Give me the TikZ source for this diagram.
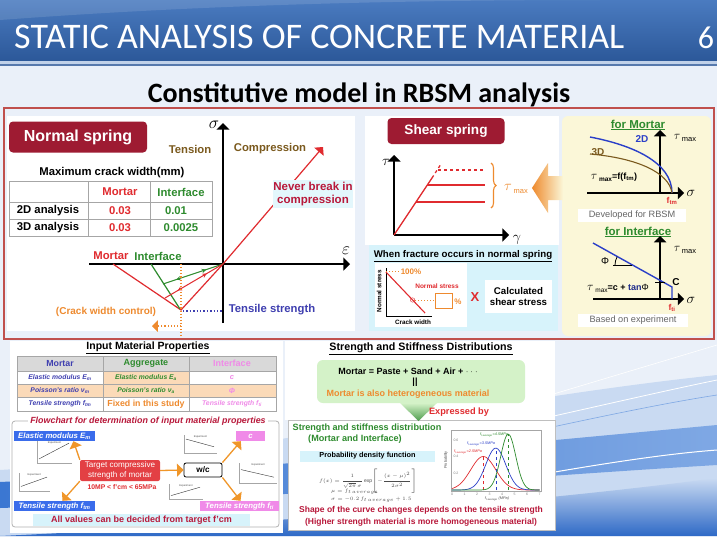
\documentclass[tikz,border=0pt]{standalone}
\usepackage{fontspec}
\setmainfont{Liberation Sans}
\newfontfamily\calib{Carlito}
\usetikzlibrary{arrows,calc,shadings}
\usetikzlibrary{decorations.pathreplacing,decorations.markings}

\newcommand\fsz[1]{\fontsize{#1}{\fpeval{1.18*#1}}\selectfont}

\definecolor{slidebg}{HTML}{EAF0F9}
\definecolor{barlight}{HTML}{4A7BC0}
\definecolor{bardark}{HTML}{2C5899}
\definecolor{boxred}{HTML}{C0504D}
\definecolor{springred}{HTML}{9E1B32}
\definecolor{lred}{HTML}{E02B2F}
\definecolor{lgreen}{HTML}{2E8B2E}
\definecolor{tbrown}{HTML}{7B5A1E}
\definecolor{tblue}{HTML}{3F3FB0}
\definecolor{lorange}{HTML}{EE8A2E}
\definecolor{cyanbg}{HTML}{D7F3FB}
\definecolor{yellowbg}{HTML}{FBF7D8}
\definecolor{dred}{HTML}{B8183A}
\definecolor{cblue}{HTML}{2B3FC8}
\definecolor{lpink}{HTML}{F08AE8}
\definecolor{bblue}{HTML}{3A6CEB}
\definecolor{peach}{HTML}{FBDAB8}
\definecolor{hgray}{HTML}{D9D9D9}
\definecolor{lgreenbg}{HTML}{D4F2C8}
\definecolor{wave1}{HTML}{C9DAF2}
\definecolor{wave2}{HTML}{7FA8E4}
\definecolor{wave3}{HTML}{3B77D2}
\definecolor{wave4}{HTML}{2E69C6}

\newcommand\minigraph[6]{%
  \fill[white] (#1,#2) rectangle ++(#3,#4);
  \draw[gray!70, line width=0.3] (#1+4,#2+1) -- (#1+4,#2+#4-4) -- (#1+#3,#2+#4-4);
  \draw[gray!40!black, line width=0.4] (#1+6,{#2+(#4-6)*#5}) -- (#1+#3-3,{#2+(#4-6)*#6});
  \node[inner sep=0, font=\fsz{2.6}, text=gray!60!black] at (#1+#3*0.55,#2+3) {Experiment};
}

\tikzset{
  springbox/.style={fill=springred, rounded corners=4, text=white, font=\bfseries\fsz{16}, minimum width=138, minimum height=31, inner sep=0},
  lbl/.style={inner sep=0, font=\bfseries\fsz{#1}},
  lbl/.default=11.3,
  itxt/.style={inner sep=0, font=\bfseries\itshape\fsz{#1}},
  itxt/.default=6.8,
  axis/.style={line width=1.3, ->},
  whitebox/.style={fill=white, inner sep=0, text=gray!80!black, font=\fsz{9.2}},
  bluebox/.style={fill=bblue, text=white, font=\bfseries\itshape\fsz{7.8}, minimum width=81, minimum height=10, inner sep=0},
  pinkbox/.style={fill=lpink, text=white, font=\bfseries\itshape\fsz{7.8}, minimum height=10, inner sep=0},
  flowarrow/.style={draw=lorange!90!yellow, line width=1.3, ->},
  unload/.style={postaction={decorate}, decoration={markings, mark=at position 0.22 with {\arrowreversed{stealth}}, mark=at position 0.72 with {\arrow{stealth}}}},
}

\begin{document}
\begin{tikzpicture}[x=1pt, y=-1pt, >=triangle 90]
\useasboundingbox (0,0) rectangle (717,536);
% background
\fill[slidebg] (0,0) rectangle (717,536);
\fill[wave1] (0,470) .. controls (250,455) and (480,400) .. (717,375) -- (717,536) -- (0,536) -- cycle;
\shade[left color=wave3, right color=wave2] (0,482) .. controls (250,470) and (500,445) .. (717,425) -- (717,465) .. controls (500,478) and (250,500) .. (0,508) -- cycle;
\shade[top color=wave1, bottom color=wave4] (0,536) .. controls (300,522) and (550,500) .. (717,478) -- (717,536) -- cycle;
\draw[white, line width=0.8] (300,470) .. controls (500,430) and (620,400) .. (717,380);
\draw[wave2, line width=0.6] (300,480) .. controls (500,440) and (620,410) .. (717,395);
\draw[white, line width=0.6] (400,440) -- (717,345);
\draw[white, line width=1] (400,500) .. controls (560,470) and (650,455) .. (717,450);

% title
\shade[top color=barlight, bottom color=bardark] (0,0) rectangle (717,61);
\fill[white, opacity=0.12] (0,20) .. controls (200,5) and (400,0) .. (600,0) -- (0,0) -- cycle;
\fill[white!65!barlight] (0,61) rectangle (717,64);
\fill[bardark!80] (0,64) rectangle (717,65.5);
\node[anchor=west, inner sep=0, text=white, font=\calib\fsz{36}] (title) at (14,37) {STATIC ANALYSIS OF CONCRETE MATERIAL};
\node[inner sep=0, text=white, font=\calib\fsz{32}] (pagenum) at (706,38) {6};
\node[inner sep=0, font=\calib\bfseries\fsz{28}] (subtitle) at (359,95) {Constitutive model in RBSM analysis};

% frames
\draw[boxred, line width=1.8] (4,108) rectangle (714,339);
\fill[white] (7,116) rectangle (355,331);
\fill[white] (365,116) rectangle (559,245);
\fill[cyanbg] (369,245) rectangle (558,331);
\fill[yellowbg, rounded corners=6] (562,116) rectangle (711,336);

% normal spring
\begin{scope}
  \node[springbox] (normal) at (78,137) {Normal spring};
  \draw[axis] (223,323) -- (223,123);
  \draw[axis] (89,264) -- (350,264);
  \node[inner sep=0, font=\fsz{16}] (sigA) at (214,125) {$\sigma$};
  \node[inner sep=0, font=\fsz{16}] (epsA) at (346,251) {$\varepsilon$};
  \node[lbl, text=tbrown] (tension) at (190,149) {Tension};
  \node[lbl, text=tbrown] (compr) at (270,149) {Compression};
  \node[lbl] (mcw) at (112,173) {Maximum crack width(mm)};
  \draw[gray!70, line width=0.8] (9,181) rectangle (212,236) (9,202) -- (212,202) (9,219) -- (212,219) (88,181) -- (88,236) (150,181) -- (150,236);
  \node[lbl, text=lred] (hmortar) at (120,192) {Mortar};
  \node[lbl, text=lgreen] (hinter) at (181,192) {Interface};
  \node[lbl] (row2d) at (48,211) {2D analysis};
  \node[lbl, text=lred] (m2d) at (120,211) {0.03};
  \node[lbl, text=lgreen] (i2d) at (176,211) {0.01};
  \node[lbl] (row3d) at (48,228) {3D analysis};
  \node[lbl, text=lred] (m3d) at (120,228) {0.03};
  \node[lbl, text=lgreen] (i3d) at (181,228) {0.0025};
  \draw[lred, line width=1.2, ->] (223,264) -- (323,147);
  \node[fill=cyanbg!70, lbl=11.5, text=dred, align=center, minimum width=80, minimum height=28] (never) at (313,194) {Never break in\\compression};
  \draw[lred, line width=1.2] (113,264) -- (181,310) -- (223,264);
  \draw[lgreen, line width=1.2] (151,264) -- (180,309);
  \draw[lgreen, line width=1, unload] (163,284) -- (223,264);
  \draw[lred, line width=1, unload] (165,298) -- (223,264);
  \draw[lorange, dotted, line width=1.1] (181,264) -- (181,337);
  \draw[lorange, dotted, line width=1.1, ->] (181,326) -- (152,326);
  \draw[tblue, dotted, line width=1.4] (183,311) -- (222,311);
  \node[lbl=10, text=lorange] (cwc) at (106,312) {(Crack width control)};
  \node[lbl, text=tblue] (tstr) at (272,310) {Tensile strength};
  \node[lbl, text=lred] (mlab) at (111,256) {Mortar};
  \node[lbl, text=lgreen] (ilab) at (158,256) {Interface};
\end{scope}

% shear spring
\begin{scope}
  \node[springbox, minimum width=117, minimum height=26, font=\bfseries\fsz{13.6}] (shear) at (446,131) {Shear spring};
  \draw[axis] (394,235) -- (394,155);
  \draw[axis] (394,235) -- (509,235);
  \node[inner sep=0, font=\fsz{15}] (tauB) at (386,162) {$\tau$};
  \node[inner sep=0, font=\fsz{15}] (gamB) at (517,240) {$\gamma$};
  \draw[lred, line width=1.3] (394,235) -- (432,178);
  \draw[lred, line width=1.3, dashed] (432,178) -- (441,164);
  \draw[lred, line width=1.3] (416,202) -- (485,202);
  \draw[lred, line width=1.3] (427,185) -- (485,185);
  \draw[lred, line width=1.3, dashed] (438,170) -- (485,170);
  \draw[lorange, line width=1.1, decorate, decoration={brace, amplitude=5}] (491,163) -- (491,208);
  \node[inner sep=0, text=lorange] (taumax) at (516,189) {{\fsz{14}$\tau$}\,\raisebox{-3pt}{\fsz{7.5}max}};
  \shade[left color=lorange, right color=yellowbg] (532,188) -- (548,163) -- (548,176) -- (563,176) -- (563,200) -- (548,200) -- (548,213) -- cycle;
\end{scope}

% fracture
\begin{scope}
  \node[lbl=9.7] (whenf) at (463,256) {\underline{When fracture occurs in normal spring}};
  \fill[white] (375,263) rectangle (467,327);
  \draw[line width=0.9] (386,268) -- (386,316) -- (432,316);
  \node[lbl=6.3, rotate=90] (nstress) at (379,291) {Normal stress};
  \node[lbl=6.3] (cwidth) at (413,322) {Crack width};
  \draw[lred, line width=1.1] (386,272) -- (425,313);
  \draw[lorange, dotted, line width=1] (386,271) -- (399,271);
  \node[lbl=8, text=lorange] (hundred) at (411,272) {100\%};
  \node[lbl=6.5, text=lred] (nslab) at (437,286) {Normal stress};
  \draw[lred] (412.6,300) circle (2.2);
  \draw[lorange, dotted, line width=1] (415,300) -- (435,300);
  \draw[lorange, line width=1] (435,293) rectangle (452,308);
  \node[lbl=8, text=lorange] (pct) at (458,302) {\%};
  \node[lbl=13, text=lred] (times) at (475,297) {X};
  \node[fill=white, lbl=9.7, align=center, minimum width=67, minimum height=33] (calcs) at (518.5,296.5) {Calculated\\shear stress};
\end{scope}

% mortar and interface envelopes
\begin{scope}
  \node[lbl=11.5, text=lgreen] (formortar) at (638,125) {\underline{for Mortar}};
  \draw[line width=1.2, ->] (587,193) -- (684,193);
  \draw[line width=1.2, ->] (660,193) -- (660,130);
  \draw[cblue, line width=1.4] (590,137) .. controls (632,145) and (672,162) .. (672,193);
  \draw[tbrown, line width=1.1] (590,154) .. controls (636,158) and (669,172) .. (672,193);
  \node[lbl=10, text=cblue] (lab2d) at (642,139) {2D};
  \node[lbl=10, text=tbrown] (lab3d) at (598,152) {3D};
  \node[inner sep=0] (taumaxA) at (685,138) {{\fsz{13}$\tau$}\,\raisebox{-2pt}{\fsz{7.5}max}};
  \node[inner sep=0] (fofftm) at (614,177) {{\fsz{12}$\tau$}\raisebox{-2pt}{\bfseries\fsz{6.5} max}{\bfseries\fsz{9}=f(f\textsubscript{tm})}};
  \node[lbl=8.5, text=lred] (ftm) at (672,201) {f\textsubscript{tm}};
  \node[inner sep=0, font=\fsz{15}] (sigC) at (691,193) {$\sigma$};
  \node[whitebox, minimum width=108, minimum height=13] (devel) at (632,215.5) {Developed for RBSM};
  \node[lbl=11.5, text=lgreen] (forinter) at (638,232) {\underline{for Interface}};
  \draw[line width=1.2, ->] (593,299) -- (684,299);
  \draw[line width=1.2, ->] (660,299) -- (660,236);
  \draw[cblue, line width=1.4] (593,243) -- (672,287) -- (672,299);
  \draw[line width=0.8] (613,265) -- (632,265);
  \draw[line width=0.8] (615,265) arc[start angle=180, end angle=209, radius=17];
  \node[inner sep=0, font=\fsz{10}] (phi) at (605,261) {Φ};
  \draw[line width=1] (655,282) -- (665,282);
  \node[lbl=10] (cc) at (676,282) {C};
  \node[inner sep=0] (tauint) at (618,288) {{\fsz{12}$\tau$}\raisebox{-2pt}{\fsz{6.5} max}{\bfseries\fsz{9}=c + }{\bfseries\fsz{9}\color{cblue!70!black}tan}{\fsz{9}Φ}};
  \node[lbl=8.5, text=lred] (fti) at (672,308) {f\textsubscript{ti}};
  \node[inner sep=0] (taumaxB) at (685,250) {{\fsz{13}$\tau$}\,\raisebox{-2pt}{\fsz{7.5}max}};
  \node[inner sep=0, font=\fsz{15}] (sigD) at (691,300) {$\sigma$};
  \node[whitebox, minimum width=110, minimum height=13] (based) at (633,320.5) {Based on experiment};
\end{scope}

% input material properties
\begin{scope}
  \fill[white] (10,341) rectangle (283,533);
  \node[lbl=10.5] (imp) at (148,348) {\underline{Input Material Properties}};
  \fill[hgray] (17,356) rectangle (276,371);
  \fill[peach] (103,371) rectangle (189,384);
  \fill[peach] (17,384) rectangle (276,397);
  \draw[gray!70, line width=0.6] (17,356) rectangle (276,411) (17,371) -- (276,371) (17,384) -- (276,384) (17,397) -- (276,397) (103,356) -- (103,411) (189,356) -- (189,411);
  \node[lbl=8.8, text=tblue] (tmortar) at (60,363.5) {Mortar};
  \node[lbl=9, text=lgreen] (taggr) at (146,363.5) {Aggregate};
  \node[lbl=9, text=lpink] (tinter) at (232,363.5) {Interface};
  \node[itxt, text=tblue] (emod) at (60,377.5) {Elastic modulus E\textsubscript{m}};
  \node[itxt, text=lgreen] (eaggr) at (146,377.5) {Elastic modulus E\textsubscript{a}};
  \node[itxt=7.5, text=lpink] (cint) at (232,377.5) {c};
  \node[itxt, text=tblue] (pmod) at (60,390.5) {Poisson’s ratio  ν\textsubscript{m}};
  \node[itxt, text=lgreen] (paggr) at (146,390.5) {Poisson’s ratio  ν\textsubscript{a}};
  \node[itxt=7.5, text=lpink] (phiint) at (232,390.5) {Φ};
  \node[itxt, text=tblue] (tmod) at (60,404) {Tensile strength  f\textsubscript{tm}};
  \node[lbl=8.8, text=lorange] (fixed) at (146,404) {Fixed in this study};
  \node[itxt, text=lpink] (tint) at (232,404) {Tensile strength  f\textsubscript{ti}};
\end{scope}

% flowchart
\begin{scope}
  \draw[gray!60, line width=0.8, rounded corners=3] (12,421) rectangle (279,527);
  \node[fill=white, itxt=8.9, text=dred, inner xsep=2] (fctitle) at (148,421) {Flowchart for determination of input material properties};
  \minigraph{33}{440}{39}{27}{0.9}{0.15}
  \minigraph{15}{472}{35}{23}{0.85}{0.3}
  \minigraph{180}{434}{37}{23}{0.3}{0.75}
  \minigraph{165}{483}{38}{20}{0.9}{0.3}
  \minigraph{235}{462}{42}{25}{0.4}{0.8}
  \node[bluebox] (em) at (54.5,436) {Elastic modulus E\textsubscript{m}};
  \node[bluebox] (ftmbox) at (54.5,506) {Tensile strength  f\textsubscript{tm}};
  \node[fill=lred!90, rounded corners=2, text=white, font=\fsz{8.1}, align=center, minimum width=80, minimum height=21, inner sep=0] (target) at (120,470.5) {Target compressive\\strength of mortar};
  \node[lbl=6.8, text=lred] (range) at (122,487.5) {10MP < f’cm < 65MPa};
  \node[draw, line width=0.8, fill=white, rounded corners=2, lbl=8.2, minimum width=38, minimum height=14] (wc) at (203,470) {w/c};
  \node[pinkbox, minimum width=29] (cbox) at (250.5,436) {c};
  \node[pinkbox, minimum width=79] (ftibox) at (239.5,506) {Tensile strength  f\textsubscript{ti}};
  \draw[flowarrow] (target.north west) -- ($(em.south)+(19,0)$);
  \draw[flowarrow] (target.south west) -- ($(ftmbox.north)+(8,0)$);
  \draw[flowarrow] (target.east) -- (wc.west);
  \draw[flowarrow] (wc.north east) -- ($(cbox.south west)+(5,0)$);
  \draw[flowarrow] (wc.south east) -- ($(ftibox.north)+(1,0)$);
  \node[fill=cyanbg, lbl=9, text=dred, minimum width=217, minimum height=12] (allv) at (141.5,520) {All values can be decided from target f’cm};
\end{scope}

% strength and stiffness distributions
\begin{scope}
  \fill[white] (285,341) rectangle (555,420);
  \node[lbl=10.7] (ssd) at (421,349) {\underline{Strength and Stiffness Distributions}};
  \node[fill=lgreenbg, rounded corners=6, minimum width=208, minimum height=43] (mixbox) at (421,381.5) {};
  \node[lbl=9] (mix) at (408,371) {Mortar = Paste + Sand +  Air + $\cdot\cdot\cdot$};
  \node[lbl=9] (equal) at (415,382.5) {||};
  \node[lbl=9, text=lorange] (hetero) at (408,394) {Mortar is also heterogeneous material};
  \draw[gray!50, fill=white] (288,420) rectangle (555,530);
  \shade[top color=lgreenbg, bottom color=lgreen!85] (400,403) -- (437,403) -- (418.5,421) -- cycle;
  \node[lbl=9.2, text=lred] (expr) at (459,412) {Expressed by};
  \node[lbl=9.1, text=lgreen] (sdist) at (367,428) {Strength and stiffness distribution};
  \node[lbl=9.1, text=lgreen] (mandi) at (355,439) {(Mortar and Interface)};
  \fill[cyanbg] (300,450.5) rectangle (435,461.5);
  \node[lbl=7.3] (pdf) at (367.5,456) {Probability density function};
  \node[inner sep=0, anchor=north, font=\fsz{5}, text=gray!60!black] (fx) at (368,469) {$\displaystyle f(x)=\frac{1}{\sqrt{2\pi}\,\sigma}\exp\Bigl[-\frac{(x-\mu)^2}{2\sigma^2}\Bigr]$};
  \node[inner sep=0, anchor=west, font=\fsz{5.3}, text=gray!60!black] (mu) at (331,492) {$\mu=f_{t\,average}$};
  \node[inner sep=0, anchor=west, font=\fsz{5.3}, text=gray!60!black] (sgm) at (331,500) {$\sigma=-0.2\,f_{t\,average}+1.5$};
  \draw[gray!70, line width=0.4] (451,430) rectangle (541,491);
  \foreach \mn/\sd/\col in {2.5/1.0/lred, 3.5/0.8/cblue, 4.5/0.6/lgreen}{
    \draw[\col, line width=0.7, domain=0:7, samples=60, smooth] plot ({452+12.5*\x},{490-84*exp(-((\x-\mn)^2)/(2*\sd*\sd))/(2.5066*\sd)});
    \draw[\col, dashed, line width=0.5] ({452+12.5*\mn},490) -- ({452+12.5*\mn},{490-84/(2.5066*\sd)});
  }
  \foreach \t in {0,...,7}{
    \node[inner sep=0, font=\fsz{3.5}, text=gray] at ({452+12.5*\t},494) {\t};
  }
  \foreach \p/\yy in {0.2/473, 0.4/456, 0.6/440}{
    \node[inner sep=0, font=\fsz{3.5}, text=gray] at (456,\yy) {\p};
  }
  \node[inner sep=0, font=\itshape\fsz{3.8}, text=lgreen] (gl) at (494,435) {f\textsubscript{t average}=4.5MPa};
  \node[inner sep=0, font=\itshape\fsz{3.8}, text=cblue] (bl) at (481,443.5) {f\textsubscript{t average}=3.5MPa};
  \node[inner sep=0, font=\itshape\fsz{3.8}, text=lred] (rl) at (468,452) {f\textsubscript{t average}=2.5MPa};
  \node[inner sep=0, font=\fsz{3.8}, text=gray!60!black, rotate=90] (prob) at (446,460) {Probability};
  \node[inner sep=0, font=\itshape\fsz{3.8}, text=gray!60!black] (xlab) at (497,499) {f\textsubscript{t average} (MPa)};
  \node[lbl=8.5, text=dred] (shape) at (421,510) {Shape of the curve changes depends on the tensile strength};
  \node[lbl=8.5, text=dred] (higher) at (421,522) {(Higher strength material is more homogeneous material)};
\end{scope}
\end{tikzpicture}
\end{document}
